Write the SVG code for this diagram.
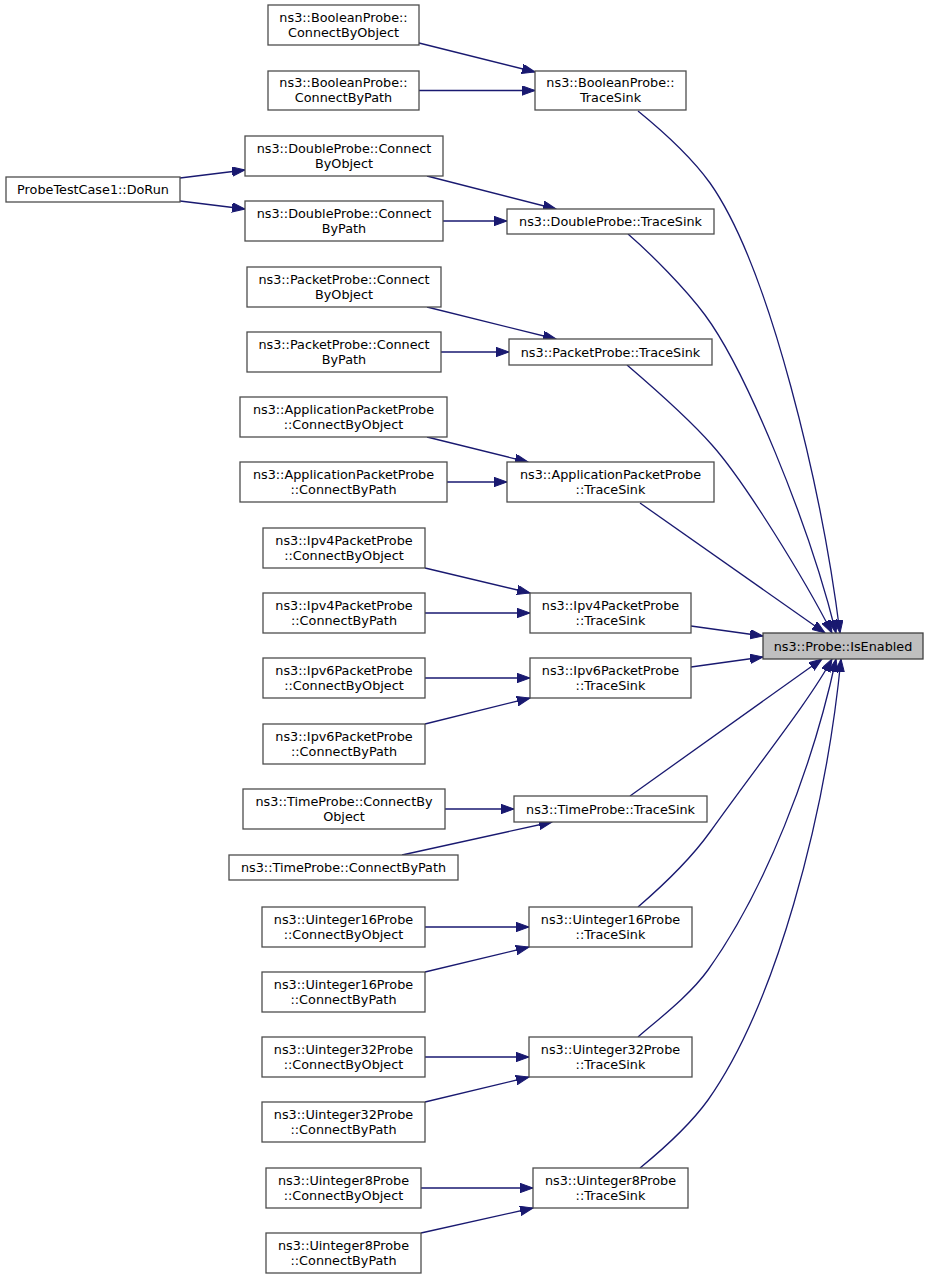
<svg xmlns="http://www.w3.org/2000/svg" width="931" height="1279" viewBox="0 0 931 1279">
<style>
.n rect{fill:#ffffff;stroke:#4d4d4d;stroke-width:1.3}
.root rect{fill:#bfbfbf;stroke:#404040;stroke-width:1.3}
text{font-family:"DejaVu Sans","Liberation Sans",sans-serif;font-size:12.8px;fill:#000;text-anchor:middle}
.e path{fill:none;stroke:#191970;stroke-width:1.3;marker-end:url(#ah)}
</style>
<defs>
<marker id="ah" markerUnits="userSpaceOnUse" markerWidth="14" markerHeight="10" refX="13" refY="4.7" orient="auto" viewBox="0 0 14 10">
<path d="M0,0 L13,4.7 L0,9.4 z" fill="#191970" stroke="#191970" stroke-width="1"/>
</marker>
</defs>
<rect width="931" height="1279" fill="#ffffff"/>
<g class="e" id="connectors">
<path d="M419,43 L535,72"/>
<path d="M419,90.5 L535,90.5"/>
<path d="M180,178 L245,170"/>
<path d="M180,201 L245,209"/>
<path d="M427,176 L556,209"/>
<path d="M443,221 L507,221"/>
<path d="M427,307 L556,339"/>
<path d="M441,352 L509,352"/>
<path d="M427,437 L528,462"/>
<path d="M447,482 L507,482"/>
<path d="M425,568 L530,593"/>
<path d="M425,613 L530,613"/>
<path d="M425,678 L530,678"/>
<path d="M425,724 L530,698"/>
<path d="M445,809 L514,809"/>
<path d="M402,855 L552,822"/>
<path d="M425,927 L529,927"/>
<path d="M425,972 L529,947"/>
<path d="M425,1057 L529,1057"/>
<path d="M425,1102 L529,1077"/>
<path d="M421,1188 L533,1188"/>
<path d="M421,1233 L533,1208"/>
<path d="M638,111 C665,133 692,158 710,183 C770,268 822,490 840,633"/>
<path d="M628,234 C650,253 685,288 705,315 C745,369 808,520 836,633"/>
<path d="M627,365 C655,389 690,420 712,445 C745,482 805,580 832,633"/>
<path d="M640,503 L825,633"/>
<path d="M691,626 L763,636"/>
<path d="M691,667 L763,657"/>
<path d="M630,796 L822,659"/>
<path d="M638,907 C660,888 690,860 710,832 C760,762 810,700 832,659"/>
<path d="M638,1037 C660,1018 690,995 708,970 C765,890 812,770 836,659"/>
<path d="M640,1168 C662,1150 690,1125 708,1100 C775,1005 825,820 841,659"/>
</g>
<g class="n" id="bool_obj"><rect x="268" y="5" width="151" height="40"/><text x="343.5" y="21.5">ns3::BooleanProbe::</text><text x="343.5" y="36.5">ConnectByObject</text></g>
<g class="n" id="bool_path"><rect x="268" y="71" width="151" height="39"/><text x="343.5" y="87">ns3::BooleanProbe::</text><text x="343.5" y="102">ConnectByPath</text></g>
<g class="n" id="bool_sink"><rect x="535" y="71" width="151" height="39"/><text x="610.5" y="87">ns3::BooleanProbe::</text><text x="610.5" y="102">TraceSink</text></g>
<g class="n" id="dbl_obj"><rect x="245" y="136" width="198" height="40"/><text x="344" y="152.5">ns3::DoubleProbe::Connect</text><text x="344" y="167.5">ByObject</text></g>
<g class="n" id="dbl_path"><rect x="245" y="201" width="198" height="40"/><text x="344" y="217.5">ns3::DoubleProbe::Connect</text><text x="344" y="232.5">ByPath</text></g>
<g class="n" id="dorun"><rect x="6" y="177" width="174" height="25"/><text x="93" y="194">ProbeTestCase1::DoRun</text></g>
<g class="n" id="dbl_sink"><rect x="507" y="209" width="207" height="25"/><text x="610.5" y="226">ns3::DoubleProbe::TraceSink</text></g>
<g class="n" id="pkt_obj"><rect x="247" y="267" width="194" height="40"/><text x="344" y="283.5">ns3::PacketProbe::Connect</text><text x="344" y="298.5">ByObject</text></g>
<g class="n" id="pkt_path"><rect x="247" y="332" width="194" height="40"/><text x="344" y="348.5">ns3::PacketProbe::Connect</text><text x="344" y="363.5">ByPath</text></g>
<g class="n" id="pkt_sink"><rect x="509" y="339" width="203" height="26"/><text x="610.5" y="356.5">ns3::PacketProbe::TraceSink</text></g>
<g class="n" id="app_obj"><rect x="240" y="397" width="207" height="40"/><text x="343.5" y="413.5">ns3::ApplicationPacketProbe</text><text x="343.5" y="428.5">::ConnectByObject</text></g>
<g class="n" id="app_path"><rect x="240" y="462" width="207" height="40"/><text x="343.5" y="478.5">ns3::ApplicationPacketProbe</text><text x="343.5" y="493.5">::ConnectByPath</text></g>
<g class="n" id="app_sink"><rect x="507" y="462" width="207" height="40"/><text x="610.5" y="478.5">ns3::ApplicationPacketProbe</text><text x="610.5" y="493.5">::TraceSink</text></g>
<g class="n" id="ipv4_obj"><rect x="263" y="528" width="162" height="40"/><text x="344" y="544.5">ns3::Ipv4PacketProbe</text><text x="344" y="559.5">::ConnectByObject</text></g>
<g class="n" id="ipv4_path"><rect x="263" y="593" width="162" height="40"/><text x="344" y="609.5">ns3::Ipv4PacketProbe</text><text x="344" y="624.5">::ConnectByPath</text></g>
<g class="n" id="ipv4_sink"><rect x="530" y="593" width="161" height="40"/><text x="610.5" y="609.5">ns3::Ipv4PacketProbe</text><text x="610.5" y="624.5">::TraceSink</text></g>
<g class="n" id="ipv6_obj"><rect x="263" y="658" width="162" height="40"/><text x="344" y="674.5">ns3::Ipv6PacketProbe</text><text x="344" y="689.5">::ConnectByObject</text></g>
<g class="n" id="ipv6_sink"><rect x="530" y="658" width="161" height="40"/><text x="610.5" y="674.5">ns3::Ipv6PacketProbe</text><text x="610.5" y="689.5">::TraceSink</text></g>
<g class="n" id="ipv6_path"><rect x="263" y="724" width="162" height="40"/><text x="344" y="740.5">ns3::Ipv6PacketProbe</text><text x="344" y="755.5">::ConnectByPath</text></g>
<g class="n" id="time_obj"><rect x="243" y="789" width="202" height="40"/><text x="344" y="805.5">ns3::TimeProbe::ConnectBy</text><text x="344" y="820.5">Object</text></g>
<g class="n" id="time_sink"><rect x="514" y="796" width="193" height="26"/><text x="610.5" y="813.5">ns3::TimeProbe::TraceSink</text></g>
<g class="n" id="time_path"><rect x="229" y="855" width="229" height="25"/><text x="343.5" y="872">ns3::TimeProbe::ConnectByPath</text></g>
<g class="n" id="u16_obj"><rect x="262" y="907" width="163" height="40"/><text x="343.5" y="923.5">ns3::Uinteger16Probe</text><text x="343.5" y="938.5">::ConnectByObject</text></g>
<g class="n" id="u16_path"><rect x="262" y="972" width="163" height="40"/><text x="343.5" y="988.5">ns3::Uinteger16Probe</text><text x="343.5" y="1003.5">::ConnectByPath</text></g>
<g class="n" id="u16_sink"><rect x="529" y="907" width="163" height="40"/><text x="610.5" y="923.5">ns3::Uinteger16Probe</text><text x="610.5" y="938.5">::TraceSink</text></g>
<g class="n" id="u32_obj"><rect x="262" y="1037" width="163" height="40"/><text x="343.5" y="1053.5">ns3::Uinteger32Probe</text><text x="343.5" y="1068.5">::ConnectByObject</text></g>
<g class="n" id="u32_path"><rect x="262" y="1102" width="163" height="40"/><text x="343.5" y="1118.5">ns3::Uinteger32Probe</text><text x="343.5" y="1133.5">::ConnectByPath</text></g>
<g class="n" id="u32_sink"><rect x="529" y="1037" width="163" height="40"/><text x="610.5" y="1053.5">ns3::Uinteger32Probe</text><text x="610.5" y="1068.5">::TraceSink</text></g>
<g class="n" id="u8_obj"><rect x="266" y="1168" width="155" height="40"/><text x="343.5" y="1184.5">ns3::Uinteger8Probe</text><text x="343.5" y="1199.5">::ConnectByObject</text></g>
<g class="n" id="u8_path"><rect x="266" y="1233" width="155" height="40"/><text x="343.5" y="1249.5">ns3::Uinteger8Probe</text><text x="343.5" y="1264.5">::ConnectByPath</text></g>
<g class="n" id="u8_sink"><rect x="533" y="1168" width="155" height="40"/><text x="610.5" y="1184.5">ns3::Uinteger8Probe</text><text x="610.5" y="1199.5">::TraceSink</text></g>
<g class="root" id="isenabled"><rect x="763" y="633" width="160" height="26"/><text x="843" y="650.5">ns3::Probe::IsEnabled</text></g>
</svg>
